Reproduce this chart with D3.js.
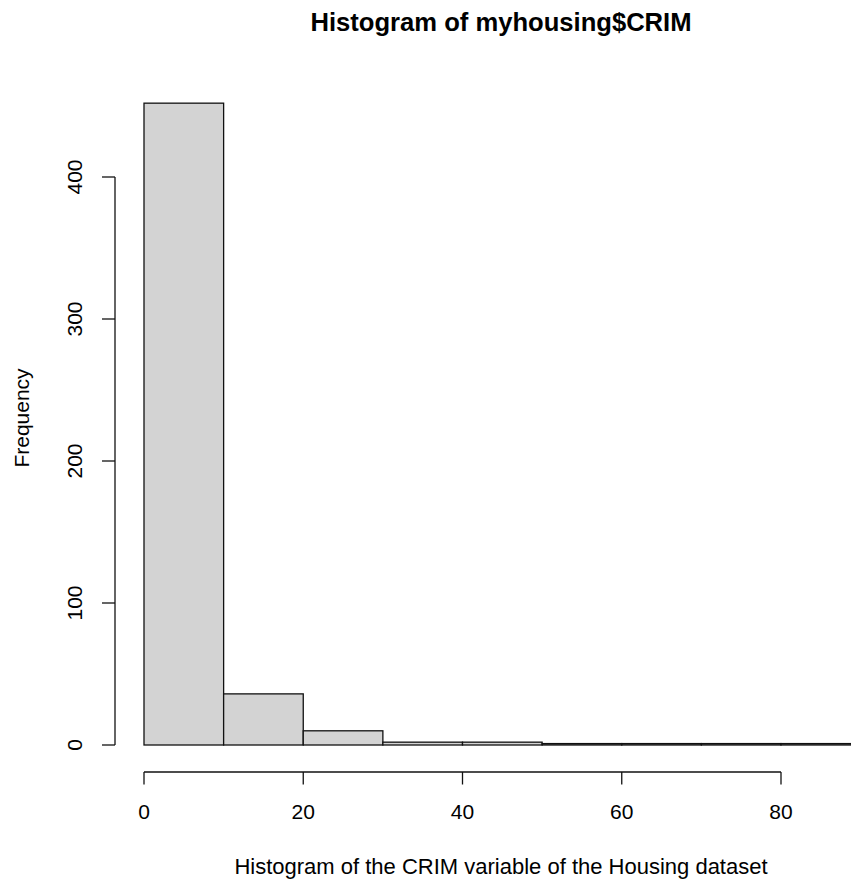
<!DOCTYPE html>
<html>
<head>
<meta charset="utf-8">
<script src="https://cdn.jsdelivr.net/npm/d3@7"></script>
<style>
    body { margin: 0; background: #fff; }
    text { font-family: "Liberation Sans", Arial, Helvetica, sans-serif; fill: #000; }
</style>
</head>
<body>
<div id="chart"></div>
<script>
// histogram of CRIM, bins of width 10
var binStarts = [0, 10, 20, 30, 40, 50, 60, 70, 80];
var binWidth = 10;
var counts = [452, 36, 10, 2, 2, 1, 1, 1, 1];
var xTicks = [0, 20, 40, 60, 80];
var yTicks = [0, 100, 200, 300, 400];
var title = "Histogram of myhousing$CRIM";
var xLabel = "Histogram of the CRIM variable of the Housing dataset";
var yLabel = "Frequency";

var width = 851, height = 880;
var fontSize = 21;
var centerX = 501;

var x = d3.scaleLinear().domain([0, 80]).range([144, 781]);
var y = d3.scaleLinear().domain([0, 400]).range([745, 177]);

var svg = d3.select('#chart').append('svg')
    .attr('width', width)
    .attr('height', height);

// bars
svg.selectAll('rect.bar')
    .data(binStarts)
    .enter()
    .append('rect')
    .attr('class', 'bar')
    .attr('x', function (d) { return x(d); })
    .attr('y', function (d, i) { return y(counts[i]); })
    .attr('width', function (d) { return x(d + binWidth) - x(d); })
    .attr('height', function (d, i) { return y(0) - y(counts[i]); })
    .style('fill', '#d3d3d3')
    .style('stroke', '#111')
    .style('stroke-width', 1.3);

// x axis (R style, below the plot)
var xAxisY = 772;
svg.append('line')
    .attr('x1', x(xTicks[0])).attr('y1', xAxisY)
    .attr('x2', x(xTicks[xTicks.length - 1])).attr('y2', xAxisY)
    .attr('stroke', '#111').attr('stroke-width', 1.3);
xTicks.forEach(function (t) {
    svg.append('line')
        .attr('x1', x(t)).attr('y1', xAxisY)
        .attr('x2', x(t)).attr('y2', xAxisY + 12.5)
        .attr('stroke', '#111').attr('stroke-width', 1.3);
    svg.append('text')
        .text(t)
        .attr('x', x(t))
        .attr('y', 819)
        .attr('font-size', fontSize)
        .attr('text-anchor', 'middle');
});

// y axis
var yAxisX = 115;
svg.append('line')
    .attr('x1', yAxisX).attr('y1', y(yTicks[0]))
    .attr('x2', yAxisX).attr('y2', y(yTicks[yTicks.length - 1]))
    .attr('stroke', '#111').attr('stroke-width', 1.3);
yTicks.forEach(function (t) {
    svg.append('line')
        .attr('x1', yAxisX - 13).attr('y1', y(t))
        .attr('x2', yAxisX).attr('y2', y(t))
        .attr('stroke', '#111').attr('stroke-width', 1.3);
    svg.append('text')
        .text(t)
        .attr('transform', 'translate(82,' + y(t) + ') rotate(-90)')
        .attr('font-size', fontSize)
        .attr('text-anchor', 'middle');
});

// titles
svg.append('text')
    .text(title)
    .attr('x', centerX)
    .attr('y', 31)
    .attr('font-size', 25.6)
    .attr('font-weight', 'bold')
    .attr('text-anchor', 'middle');

svg.append('text')
    .text(xLabel)
    .attr('x', centerX)
    .attr('y', 874)
    .attr('font-size', 22)
    .attr('text-anchor', 'middle');

svg.append('text')
    .text(yLabel)
    .attr('transform', 'translate(29,418) rotate(-90)')
    .attr('font-size', fontSize)
    .attr('text-anchor', 'middle');
</script>
</body>
</html>
